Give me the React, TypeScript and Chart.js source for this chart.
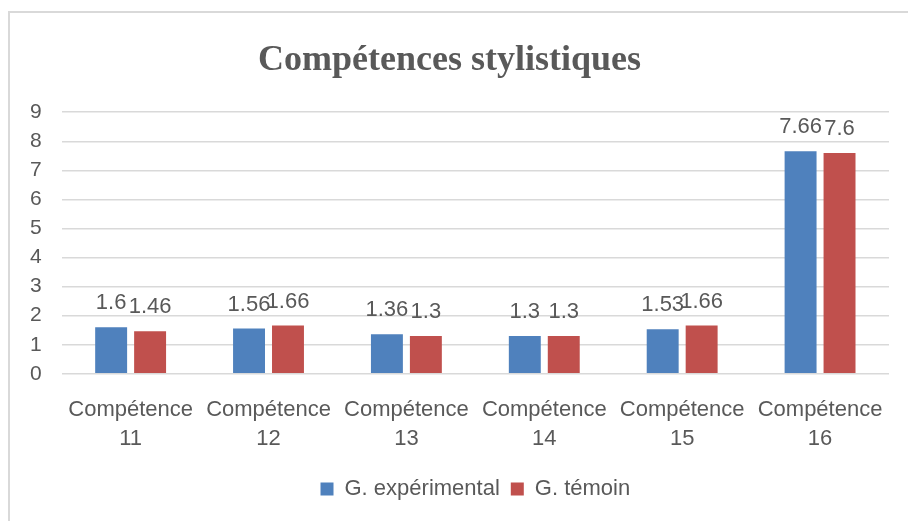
import React, { useEffect, useRef } from "react";
import { Chart, registerables } from "chart.js";

Chart.register(...registerables);

const categories: string[][] = [
  ["Compétence", "11"],
  ["Compétence", "12"],
  ["Compétence", "13"],
  ["Compétence", "14"],
  ["Compétence", "15"],
  ["Compétence", "16"],
];
const experimental = [1.6, 1.56, 1.36, 1.3, 1.53, 7.66];
const temoin = [1.46, 1.66, 1.3, 1.3, 1.66, 7.6];
const seriesNames = ["G. expérimental", "G. témoin"];
const titleText = "Compétences stylistiques";

const TEXT = "#595959";
const SANS = "'Liberation Sans', Arial, sans-serif";

const valueLabels = {
  id: "valueLabels",
  afterDatasetsDraw(chart: any) {
    const ctx = chart.ctx;
    ctx.save();
    ctx.font = `22px ${SANS}`;
    ctx.fillStyle = TEXT;
    ctx.textAlign = "center";
    ctx.textBaseline = "bottom";
    chart.data.datasets.forEach((ds: any, i: number) => {
      const meta = chart.getDatasetMeta(i);
      meta.data.forEach((bar: any, j: number) => {
        ctx.fillText(String(ds.data[j]), bar.x, bar.y - 13);
      });
    });
    ctx.restore();
  },
};

export default function App() {
  const ref = useRef<HTMLCanvasElement | null>(null);
  useEffect(() => {
    if (!ref.current) return;
    const chart = new Chart(ref.current, {
      type: "bar",
      data: {
        labels: categories,
        datasets: [
          {
            label: seriesNames[0],
            data: experimental,
            backgroundColor: "#4F81BD",
            categoryPercentage: 0.565,
            barPercentage: 0.82,
          },
          {
            label: seriesNames[1],
            data: temoin,
            backgroundColor: "#C0504D",
            categoryPercentage: 0.565,
            barPercentage: 0.82,
          },
        ],
      },
      options: {
        animation: false,
        responsive: false,
        maintainAspectRatio: false,
        layout: { padding: { left: 0, right: 19, top: 26, bottom: 11 } },
        plugins: {
          title: {
            display: true,
            text: titleText,
            color: TEXT,
            font: { family: "'Liberation Serif', 'Times New Roman', serif", size: 36, weight: "bold" },
            padding: { top: 0, bottom: 30 },
          },
          legend: {
            position: "bottom",
            fullSize: false,
            labels: {
              color: TEXT,
              font: { family: SANS, size: 22 },
              boxWidth: 13,
              boxHeight: 13,
              padding: 11,
            },
          },
          tooltip: { enabled: false },
        },
        scales: {
          x: {
            grid: { display: false },
            border: { display: false },
            ticks: {
              color: TEXT,
              font: { family: SANS, size: 22, lineHeight: 1.3 },
              padding: 14,
              maxRotation: 0,
              autoSkip: false,
            },
          },
          y: {
            min: 0,
            max: 9,
            border: { display: false },
            grid: { color: "#d9d9d9", lineWidth: 1.5, drawTicks: false },
            ticks: {
              stepSize: 1,
              autoSkip: false,
              color: TEXT,
              font: { family: SANS, size: 21 },
              padding: 20,
            },
          },
        },
      },
      plugins: [valueLabels],
    });
    return () => chart.destroy();
  }, []);

  return (
    <div style={{ position: "fixed", left: 0, top: 0, width: 908, height: 521, background: "#fff", overflow: "hidden" }}>
      <div
        style={{
          position: "absolute",
          left: 8,
          top: 11,
          width: 920,
          height: 540,
          borderTop: "2px solid #d9d9d9",
          borderLeft: "2px solid #d9d9d9",
        }}
      />
      <canvas ref={ref} width={898} height={508} style={{ position: "absolute", left: 10, top: 13, width: 898, height: 508 }} />
    </div>
  );
}
